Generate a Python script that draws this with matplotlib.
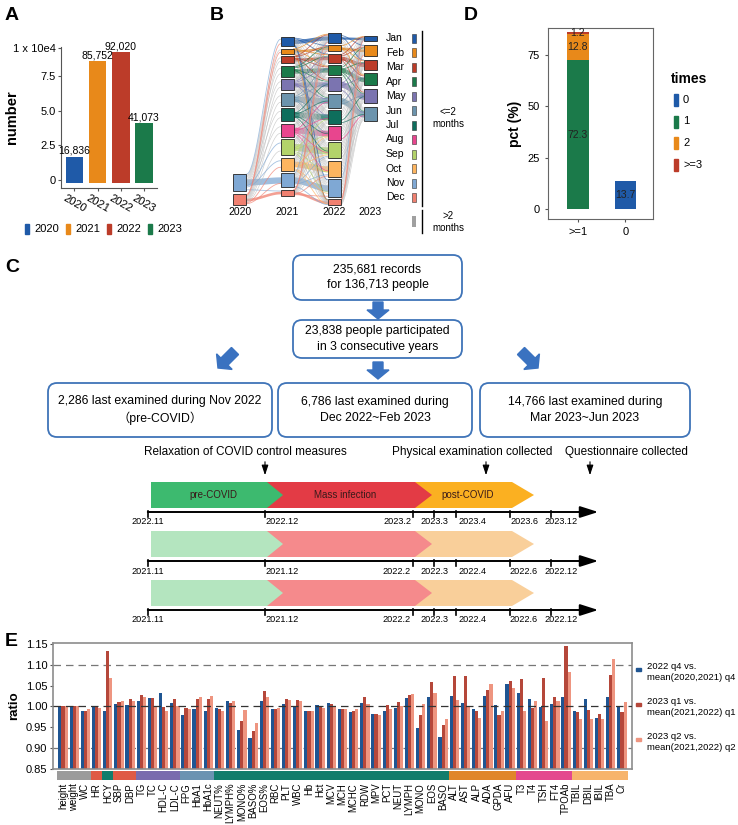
import numpy as np
import matplotlib.pyplot as plt
from matplotlib.patches import Rectangle, Polygon, FancyBboxPatch, FancyArrow

plt.rcParams['font.family'] = ['Liberation Sans', 'Noto Sans CJK SC', 'DejaVu Sans']

W, H = 738, 825

# ---------------- data ----------------
# A: records per year
years = ['2020', '2021', '2022', '2023']
records = [16836, 85752, 92020, 41073]
year_colors = ['#1f5aa8', '#e8891a', '#bc3c29', '#1b7a4a']

# B: exam month per year (node sizes)
months = ['Jan', 'Feb', 'Mar', 'Apr', 'May', 'Jun',
          'Jul', 'Aug', 'Sep', 'Oct', 'Nov', 'Dec']
month_colors = ['#1f5aa8', '#e8891a', '#bc3c29', '#1b7a4a', '#7b74b0', '#6c94ad',
                '#0e6e5c', '#e8458e', '#b3d36a', '#fdb55f', '#7fa8d4', '#f08070']
node_2020 = [0, 0, 0, 0, 0, 0, 0, 0, 0, 0, 17, 11]
node_2021 = [9, 5, 7, 11, 11, 13, 13, 13, 16, 13, 14, 6]
node_2022 = [10, 6, 9, 10, 14, 14, 14, 14, 16, 16, 18, 6]
node_2023 = [5, 11, 10, 12, 14, 14, 0, 0, 0, 0, 0, 0]

# D: infection times
times = ['0', '1', '2', '>=3']
times_colors = ['#1f5aa8', '#1b7a4a', '#e8891a', '#bc3c29']
pct_ge1 = [72.3, 12.8, 1.2]   # times 1, 2, >=3
pct_0 = 13.7

# C: flowchart and timelines
box_texts = ['235,681 records\nfor 136,713 people',
             '23,838 people participated\nin 3 consecutive years',
             '2,286 last examined during Nov 2022\n\uff08pre-COVID\uff09',
             '6,786 last examined during\nDec 2022~Feb 2023',
             '14,766 last examined during\nMar 2023~Jun 2023']
events = ['Relaxation of COVID control measures',
          'Physical examination collected', 'Questionnaire collected']
phases = ['pre-COVID', 'Mass infection', 'post-COVID']
dates_1 = ['2022.11', '2022.12', '2023.2', '2023.3', '2023.4', '2023.6', '2023.12']
dates_2 = ['2021.11', '2021.12', '2022.2', '2022.3', '2022.4', '2022.6', '2022.12']
dates_3 = ['2021.11', '2021.12', '2022.2', '2022.3', '2022.4', '2022.6', '2022.12']

# E: ratios
params = ['height', 'weight', 'WC', 'HR', 'HCY', 'SBP', 'DBP', 'TG', 'TC', 'HDL-C',
          'LDL-C', 'FPG', 'HbA1', 'HbA1c', 'NEUT%', 'LYMPH%', 'MONO%', 'BASO%', 'EOS%',
          'RBC', 'PLT', 'WBC', 'Hb', 'Hct', 'MCV', 'MCH', 'MCHC', 'RDW', 'MPV', 'PCT',
          'NEUT', 'LYMPH', 'MONO', 'EOS', 'BASO', 'ALT', 'AST', 'ALP', 'ADA', 'GPDA',
          'AFU', 'T3', 'T4', 'TSH', 'FT4', 'TPOAb', 'TBIL', 'DBIL', 'IBIL', 'TBA', 'Cr']
ratio_q4 = [1.000, 1.002, 0.988, 0.998, 0.988, 1.006, 1.003, 1.013, 1.020, 1.033,
            1.009, 0.979, 0.994, 0.989, 0.996, 1.014, 0.943, 0.925, 1.014, 0.993,
            1.005, 1.001, 0.989, 1.003, 1.008, 0.994, 0.987, 1.008, 0.981, 0.988,
            0.996, 1.020, 0.948, 1.022, 0.927, 1.026, 1.008, 0.994, 1.026, 1.003,
            1.054, 1.033, 1.018, 0.998, 1.006, 1.022, 0.988, 1.017, 0.973, 1.023, 0.998]
ratio_q1 = [1.000, 1.002, 0.990, 0.998, 1.134, 1.011, 1.018, 1.028, 1.021, 0.998,
            1.017, 0.996, 1.017, 1.017, 0.994, 1.009, 0.964, 0.942, 1.038, 0.993,
            1.018, 1.015, 0.989, 0.998, 1.005, 0.994, 0.988, 1.022, 0.983, 1.004,
            1.010, 1.028, 0.980, 1.058, 0.955, 1.073, 1.073, 0.988, 1.040, 0.980,
            1.061, 1.065, 0.996, 1.067, 1.023, 1.146, 0.986, 0.992, 0.983, 1.076, 0.986]
ratio_q2 = [1.000, 1.001, 0.994, 0.997, 1.069, 1.012, 1.014, 1.023, 1.001, 0.989,
            1.000, 0.994, 1.023, 1.024, 0.988, 1.014, 0.992, 0.960, 1.022, 0.996,
            1.016, 1.012, 0.989, 0.997, 0.998, 0.993, 0.993, 1.005, 0.979, 0.995,
            1.000, 1.030, 1.005, 1.033, 0.970, 1.015, 0.998, 0.973, 1.053, 0.988,
            1.044, 0.989, 1.013, 0.964, 1.013, 1.082, 0.971, 0.969, 0.971, 1.113, 1.010]
series_names = ['2022 q4 vs.\nmean(2020,2021) q4',
                '2023 q1 vs.\nmean(2021,2022) q1',
                '2023 q2 vs.\nmean(2021,2022) q2']
series_colors = ['#1f5592', '#b5473a', '#ee9580']
group_sizes = [3, 1, 1, 2, 4, 3, 21, 6, 5, 5]
group_colors = ['#9b9b9b', '#df5a45', '#127d6c', '#df5a45', '#7a6cae',
                '#6b93b2', '#127d6c', '#e0862a', '#e4488e', '#f7b46c']


fig = plt.figure(figsize=(W / 100, H / 100), dpi=100)


def px_axes(x0, y0, x1, y1):
    # axes placed by pixel box (top-left origin)
    return fig.add_axes([x0 / W, 1 - y1 / H, (x1 - x0) / W, (y1 - y0) / H])


# overlay for drawn parts (letters, flowchart, timelines, legends)
ov = fig.add_axes([0, 0, 1, 1])
ov.set_xlim(0, W)
ov.set_ylim(H, 0)
ov.axis('off')

for lab, (lx, ly) in zip('ABDCE', [(5, 15), (210, 15), (464, 15), (5, 268), (5, 642)]):
    ov.text(lx, ly, lab, fontsize=14, fontweight='bold', va='center')

# ---------------- A ----------------
axA = px_axes(61, 47, 157, 188)
xa = np.arange(len(years))
va = np.array(records) / 1e4
axA.bar(xa, va + 0.2, bottom=-0.2, width=0.75, color=year_colors)
for x, v, r in zip(xa, va, records):
    axA.text(x, v + 0.05, f'{r:,}', ha='center', va='bottom', fontsize=7.5)
axA.set_xlim(-0.58, 3.56)
axA.set_ylim(-0.58, 9.59)
axA.set_yticks([0, 2.5, 5, 7.5, 9.5])
axA.set_yticklabels(['0', '2.5', '5.0', '7.5', '1 x 10e4'], fontsize=8)
axA.set_xticks(xa)
axA.set_xticklabels(years, rotation=-30, fontsize=8, ha='center')
axA.spines[['top', 'right']].set_visible(False)
for s in ['left', 'bottom']:
    axA.spines[s].set_color('#555555')
axA.tick_params(length=2.5, pad=1.5, color='#555555')
axA.set_ylabel('number', fontsize=10.5, fontweight='bold')
axA.yaxis.set_label_coords(-0.44, 0.5)

for i, (yr, c) in enumerate(zip(years, year_colors)):
    lx = 25 + i * 41
    ov.add_patch(Rectangle((lx, 224), 4, 10, color=c))
    ov.text(lx + 9, 229.5, yr, fontsize=8, va='center')

# ---------------- B ----------------
axB = px_axes(225, 25, 470, 235)
axB.set_xlim(225, 470)
axB.set_ylim(235, 25)
axB.axis('off')

columns = [node_2020, node_2021, node_2022, node_2023]
col_x = [240, 287, 334, 370]
col_start = [205, 37, 33, 36]
col_gap = [3.5, 2.5, 2.3, 3.8]
node_w = 13


def node_tops(sizes, start, gap, from_bottom):
    tops = [None] * len(sizes)
    y = start
    order = range(len(sizes) - 1, -1, -1) if from_bottom else range(len(sizes))
    for i in order:
        if sizes[i] <= 0:
            continue
        if from_bottom:
            y -= sizes[i]
            tops[i] = y
            y -= gap
        else:
            tops[i] = y
            y += sizes[i] + gap
    return tops


tops = [node_tops(columns[c], col_start[c], col_gap[c], c == 0) for c in range(4)]


def sig_curve(x0, y0, x1, y1, n=40):
    t = np.linspace(0, 1, n)
    s = t * t * (3 - 2 * t)
    return x0 + (x1 - x0) * t, y0 + (y1 - y0) * s


for c in range(3):
    src, dst = columns[c], columns[c + 1]
    xs0 = col_x[c] + node_w / 2
    xs1 = col_x[c + 1] - node_w / 2
    si = [i for i in range(12) if src[i] > 0]
    dj = [j for j in range(12) if dst[j] > 0]
    gray, colored, bands = [], [], []
    for a, i in enumerate(si):
        for b, j in enumerate(dj):
            y0 = tops[c][i] + (b + 0.5) / len(dj) * src[i]
            y1 = tops[c + 1][j] + (a + 0.5) / len(si) * dst[j]
            d = min(abs(i - j), 12 - abs(i - j))
            if d == 0:
                bands.append((i, j))
            elif d <= 2:
                colored.append((y0, y1, month_colors[i]))
            else:
                gray.append((y0, y1))
    for y0, y1 in gray:
        axB.plot(*sig_curve(xs0, y0, xs1, y1), color='#b8b8b8', lw=0.45, alpha=0.7)
    for y0, y1, col in colored:
        axB.plot(*sig_curve(xs0, y0, xs1, y1), color=col, lw=0.6, alpha=0.7)
    for i, j in bands:
        w = 0.45 * min(src[i], dst[j])
        xx, yy = sig_curve(xs0, tops[c][i] + src[i] / 2, xs1, tops[c + 1][j] + dst[j] / 2)
        axB.fill_between(xx, yy - w / 2, yy + w / 2, color=month_colors[i], alpha=0.75, lw=0)

for c in range(4):
    for i in range(12):
        if columns[c][i] > 0:
            axB.add_patch(Rectangle((col_x[c] - node_w / 2, tops[c][i]), node_w, columns[c][i],
                                    facecolor=month_colors[i], edgecolor='#222222', lw=0.6, zorder=5))
    axB.text(col_x[c], 212, years[c], ha='center', va='center', fontsize=7.5)

for k, (m, col) in enumerate(zip(months, month_colors)):
    yk = 38 + 14.5 * k
    axB.text(386, yk, m, va='center', fontsize=7.5)
    axB.add_patch(Rectangle((412, yk - 4.5), 4, 9, facecolor=col, edgecolor='#333333', lw=0.4))
axB.plot([422, 422], [31, 206], color='k', lw=1)
axB.text(448, 118, '<=2\nmonths', ha='center', va='center', fontsize=7, linespacing=1.3)
axB.add_patch(Rectangle((412, 216), 4, 11, facecolor='#a0a0a0', lw=0))
axB.plot([422, 422], [210, 233], color='k', lw=1)
axB.text(448, 222, '>2\nmonths', ha='center', va='center', fontsize=7, linespacing=1.3)

# ---------------- D ----------------
axD = px_axes(548, 28, 653, 219)
cum = np.cumsum([0] + pct_ge1)
for k in range(3):
    axD.bar(0, pct_ge1[k], bottom=cum[k], width=0.46, color=times_colors[k + 1])
axD.bar(1, pct_0, width=0.46, color=times_colors[0])
axD.text(0, cum[0] + pct_ge1[0] / 2, f'{pct_ge1[0]}', ha='center', va='center', fontsize=7.5, color='#222222')
axD.text(0, cum[1] + pct_ge1[1] / 2, f'{pct_ge1[1]}', ha='center', va='center', fontsize=7.5, color='#222222')
axD.text(0, cum[3] - 0.6, f'{pct_ge1[2]}', ha='center', va='center', fontsize=7.5, color='#222222')
axD.text(1, pct_0 / 2, f'{pct_0}', ha='center', va='center', fontsize=7.5, color='#222222')
axD.set_xlim(-0.63, 1.58)
axD.set_ylim(-4.7, 88)
axD.set_yticks([0, 25, 50, 75])
axD.set_xticks([0, 1])
axD.set_xticklabels(['>=1', '0'])
axD.tick_params(labelsize=8, length=2.5, color='#555555')
for s in axD.spines.values():
    s.set_color('#666666')
axD.set_ylabel('pct (%)', fontsize=10, fontweight='bold')

ov.text(671, 79, 'times', fontsize=10, fontweight='bold', va='center')
for k, (t, col) in enumerate(zip(times, times_colors)):
    yk = 100 + 21.5 * k
    ov.add_patch(Rectangle((674, yk - 6), 4, 12, color=col))
    ov.text(683, yk, t, fontsize=8, va='center')

# ---------------- C ----------------
box_pos = [(293, 255, 169, 45), (293, 320, 169, 38),
           (48, 383, 224, 54), (278, 383, 194, 54), (480, 383, 210, 54)]
for (bx, by, bw, bh), txt in zip(box_pos, box_texts):
    ov.add_patch(FancyBboxPatch((bx, by), bw, bh, boxstyle='round,pad=0,rounding_size=9',
                                facecolor='white', edgecolor='#3f74b8', lw=1.3))
    ov.text(bx + bw / 2, by + bh / 2, txt, ha='center', va='center', fontsize=8.8, linespacing=1.35)

arrow_kw = dict(width=10, head_width=22, head_length=9, color='#3a72c0', length_includes_head=True)
ov.add_patch(FancyArrow(378, 302, 0, 17, **arrow_kw))
ov.add_patch(FancyArrow(378, 362, 0, 17, **arrow_kw))
ov.add_patch(FancyArrow(235, 351, -17, 17, **arrow_kw))
ov.add_patch(FancyArrow(521, 351, 17, 17, **arrow_kw))

for txt, tx in zip(events, [245, 472, 626]):
    ov.text(tx, 452, txt, ha='center', va='center', fontsize=8.5)
for ax_x in [265, 486, 590]:
    ov.annotate('', xy=(ax_x, 478), xytext=(ax_x, 459),
                arrowprops=dict(arrowstyle='-|>,head_length=0.6,head_width=0.2', color='k', lw=0.8))

tick_px = [148, 265, 413, 434, 456, 510, 551]
label_px = [148, 282, 397, 434, 472, 524, 561]
seg_px = [(151, 267, 283), (267, 415, 432), (415, 512, 534)]
dark = ['#3dba6f', '#e33b45', '#fbb021']
light = ['#b4e5bf', '#f58a8c', '#f9cf9a']
for r, labels in enumerate([dates_1, dates_2, dates_3]):
    top = 482 + 49 * r
    bh = 26
    cols = dark if r == 0 else light
    for k in [2, 1, 0]:
        x0, x1, tip = seg_px[k]
        ov.add_patch(Polygon([(x0, top), (x1, top), (tip, top + bh / 2), (x1, top + bh), (x0, top + bh)],
                             closed=True, facecolor=cols[k], lw=0))
        if r == 0:
            ov.text((x0 + x1) / 2 + 4, top + bh / 2, phases[k], ha='center', va='center',
                    fontsize=7, color='#3a1a1a')
    ya = top + 30
    ov.annotate('', xy=(601, ya), xytext=(145, ya),
                arrowprops=dict(arrowstyle='-|>,head_length=1.1,head_width=0.35', color='k', lw=1.4))
    for tx in tick_px:
        ov.plot([tx, tx], [ya - 1, ya + 5], color='k', lw=1.2)
    for lx, tl in zip(label_px, labels):
        ov.text(lx, ya + 10, tl, ha='center', va='center', fontsize=6.6)

# ---------------- E ----------------
axE = px_axes(53, 643, 632, 769)
xe = np.arange(len(params))
bw = 0.28
for k, vals in enumerate([ratio_q4, ratio_q1, ratio_q2]):
    axE.bar(xe + (k - 1) * bw, vals, width=bw, color=series_colors[k])
axE.axhline(1.10, color='#777777', lw=0.9, ls=(0, (6, 4)), zorder=0)
axE.axhline(0.90, color='#777777', lw=0.9, ls=(0, (6, 4)), zorder=0)
axE.axhline(1.00, color='#333333', lw=0.9, ls=(0, (6, 4)), zorder=3)
axE.set_xlim(-0.9, len(params) - 0.1)
axE.set_ylim(0.85, 1.152)
axE.set_yticks([0.85, 0.90, 0.95, 1.00, 1.05, 1.10, 1.15])
axE.set_yticklabels([f'{v:.2f}' for v in [0.85, 0.90, 0.95, 1.00, 1.05, 1.10, 1.15]], fontsize=8)
axE.set_xticks([])
axE.tick_params(length=2.5, color='#555555', pad=1.5)
for s in axE.spines.values():
    s.set_color('#8c8c8c')
    s.set_linewidth(1.2)
axE.set_ylabel('ratio', fontsize=9.5, fontweight='bold', labelpad=4)

axS = px_axes(53, 771, 632, 780)
strip_cols = np.repeat(group_colors, group_sizes)
axS.bar(xe, 1, width=1.0, color=strip_cols)
axS.set_xlim(-0.9, len(params) - 0.1)
axS.set_ylim(0, 1)
axS.set_yticks([])
axS.set_xticks(xe)
axS.set_xticklabels(params, rotation=90, fontsize=6.9)
axS.tick_params(length=0, pad=2)
for s in axS.spines.values():
    s.set_visible(False)

for k, (name, col) in enumerate(zip(series_names, series_colors)):
    yk = 672 + 35 * k
    ov.add_patch(Rectangle((636, yk - 4.5), 5, 3, color=col))
    ov.text(647, yk, name, fontsize=6.8, va='center', linespacing=1.3)

fig.savefig('out.png', dpi=100)
